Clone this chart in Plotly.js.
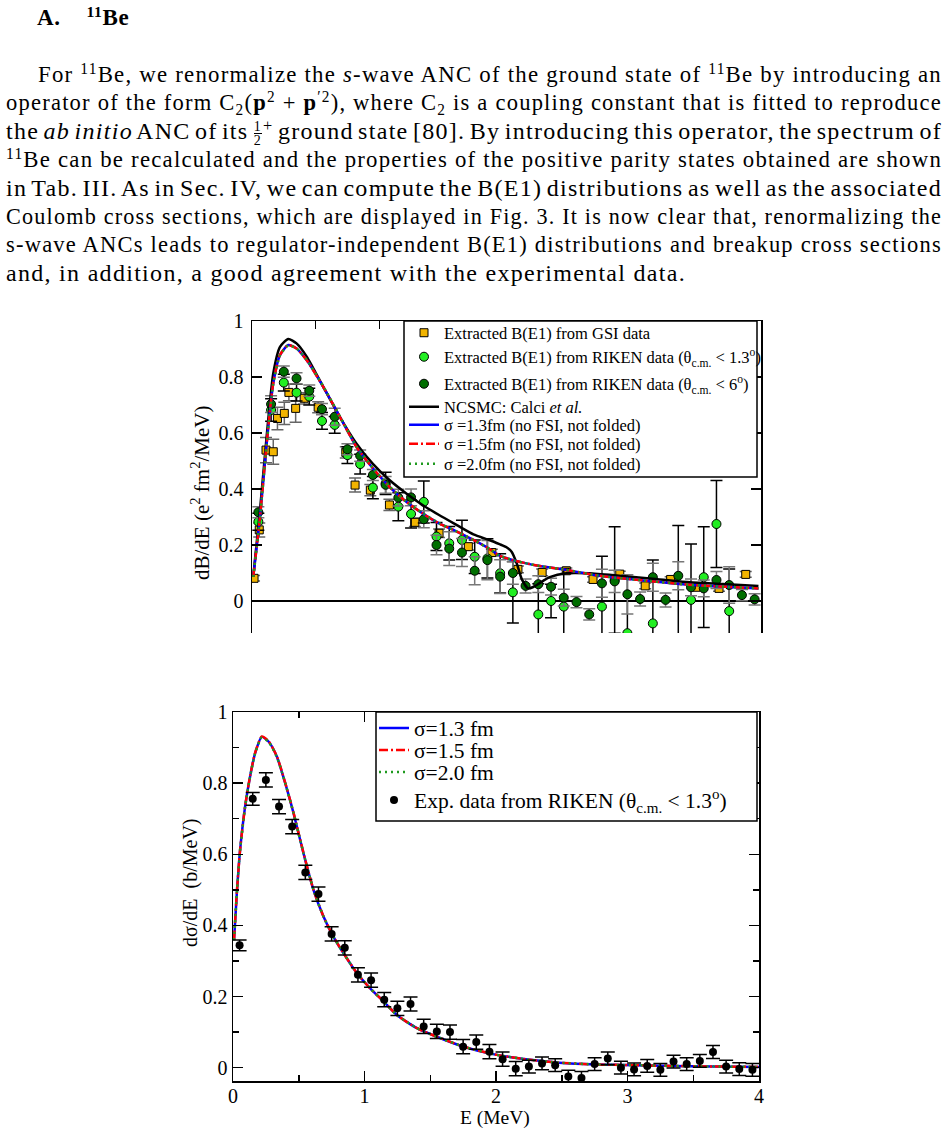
<!DOCTYPE html>
<html>
<head>
<meta charset="utf-8">
<script src="https://cdn.plot.ly/plotly-3.0.1.min.js"></script>
<style>
  body { margin: 0; background: #fff; width: 946px; height: 1147px; overflow: hidden; position: relative; }
  #fig { position: absolute; left: 0; top: 0; width: 946px; height: 1147px; }
  .txt { position: absolute; font-family: 'Liberation Serif', 'Times New Roman', serif; color: #000;
         font-size: 24px; line-height: 28px; white-space: nowrap; z-index: 2; }
  .txt sup { font-size: 0.68em; vertical-align: 0.5em; line-height: 0; }
  .txt sub { font-size: 0.68em; vertical-align: -0.3em; line-height: 0; }
  .fr { display: inline-flex; flex-direction: column; font-size: 14px; line-height: 13px;
        vertical-align: middle; text-align: center; margin: 0 1px; }
  .fr span + span { border-top: 1px solid #000; }
</style>
</head>
<body>
<div class="txt" style="left:37px;top:4px;font-weight:bold;font-size:23px;letter-spacing:0.6px">A.<span style="margin-left:26px"><sup>11</sup>Be</span></div>

<div class="txt para jl" data-w="904" style="left:38px;top:60px">For <sup>11</sup>Be, we renormalize the <i>s</i>-wave ANC of the ground state of <sup>11</sup>Be by introducing an</div>
<div class="txt para jl" data-w="936" style="left:6px;top:88px">operator of the form C<sub>2</sub>(<b>p</b><sup>2</sup> + <b>p</b><sup>′2</sup>), where C<sub>2</sub> is a coupling constant that is fitted to reproduce</div>
<div class="txt para jl" data-w="936" style="left:6px;top:117px">the <i>ab initio</i> ANC of its <span class="fr"><span>1</span><span>2</span></span><sup>+</sup> ground state [80]. By introducing this operator, the spectrum of</div>
<div class="txt para jl" data-w="936" style="left:6px;top:145px"><sup>11</sup>Be can be recalculated and the properties of the positive parity states obtained are shown</div>
<div class="txt para jl" data-w="936" style="left:6px;top:174px">in Tab. III. As in Sec. IV, we can compute the B(E1) distributions as well as the associated</div>
<div class="txt para jl" data-w="936" style="left:6px;top:202px">Coulomb cross sections, which are displayed in Fig. 3. It is now clear that, renormalizing the</div>
<div class="txt para jl" data-w="936" style="left:6px;top:230px">s-wave ANCs leads to regulator-independent B(E1) distributions and breakup cross sections</div>
<div class="txt para" id="lastline" style="left:6px;top:259px">and, in addition, a good agreement with the experimental data.</div>

<div id="fig"></div>

<script>
// Widen the serif text to the column measure set by the closing line, then justify the others
(function () {
  var last = document.getElementById('lastline');
  var w = last.getBoundingClientRect().width;
  var n = last.textContent.length;
  var ls = Math.max(0, (680 - w) / n);
  document.querySelectorAll('.para').forEach(function (el) { el.style.letterSpacing = ls + 'px'; });
  document.querySelectorAll('.jl').forEach(function (el) {
    var target = parseFloat(el.dataset.w);
    var nat = el.getBoundingClientRect().width;
    var spaces = (el.textContent.match(/ /g) || []).length;
    var ws = spaces > 0 ? (target - nat) / spaces : 0;
    if (ws < -3) {
      el.style.transformOrigin = 'left center';
      el.style.transform = 'scaleX(' + (target / nat) + ')';
    } else {
      el.style.wordSpacing = ws + 'px';
    }
  });
})();

// ---------- B(E1) distribution (upper panel) ----------
const gsiE   = [0.016, 0.057, 0.11, 0.167, 0.2, 0.254, 0.29, 0.343, 0.41, 0.52, 0.737, 0.81, 0.93, 1.08, 1.28, 1.47, 1.70, 1.885, 2.09, 2.28, 2.47, 2.68, 2.89, 3.09, 3.29, 3.49, 3.67, 3.88];
const gsiB   = [0.081, 0.254, 0.539, 0.533, 0.652, 0.67, 0.745, 0.688, 0.724, 0.692, 0.531, 0.414, 0.396, 0.343, 0.281, 0.242, 0.194, 0.173, 0.113, 0.102, 0.108, 0.077, 0.096, 0.054, 0.077, 0.049, 0.045, 0.095];
const gsiErr = [0.01, 0.025, 0.045, 0.045, 0.04, 0.04, 0.03, 0.05, 0.02, 0.02, 0.02, 0.025, 0.02, 0.02, 0.015, 0.015, 0.012, 0.012, 0.012, 0.012, 0.01, 0.01, 0.01, 0.01, 0.01, 0.01, 0.01, 0.01];

const rikenE = [0.05, 0.15, 0.25, 0.35, 0.45, 0.55, 0.65, 0.75, 0.85, 0.95, 1.05, 1.15, 1.25, 1.35, 1.45, 1.55, 1.65, 1.75, 1.85, 1.95,
                2.05, 2.15, 2.25, 2.35, 2.45, 2.55, 2.65, 2.75, 2.85, 2.95, 3.05, 3.15, 3.25, 3.35, 3.45, 3.55, 3.65, 3.75, 3.85, 3.95];

const riken13B   = [0.283, 0.682, 0.78, 0.744, 0.73, 0.643, 0.629, 0.521, 0.489, 0.405, 0.42, 0.337, 0.311, 0.354, 0.23, 0.206, 0.218, 0.158, 0.152, 0.099,
                    0.031, null, -0.048, 0.0, -0.02, null, null, -0.02, 0.075, -0.115, null, -0.08, null, -0.16, 0.004, 0.085, 0.275, -0.036, null, null];
const riken13Err = [0.03, 0.04, 0.03, 0.03, 0.03, 0.03, 0.03, 0.03, 0.035, 0.04, 0.04, 0.05, 0.05, 0.075, 0.05, 0.06, 0.07, 0.06, 0.07, 0.07,
                    0.11, 0, 0.11, 0.06, 0.136, 0, 0, 0.18, 0.19, 0.2, 0, 0.226, 0, 0.43, 0.2, 0.18, 0.155, 0.15, 0, 0];

const riken6B   = [0.317, 0.703, 0.819, 0.795, 0.751, 0.685, 0.658, 0.542, 0.519, 0.45, 0.415, 0.369, 0.37, 0.292, 0.20, 0.187, 0.173, 0.108, 0.146, 0.087,
                   0.10, 0.054, 0.06, 0.051, 0.012, -0.004, -0.048, 0.063, 0.07, 0.024, 0.007, 0.085, 0.004, 0.09, 0.049, 0.045, 0.075, 0.057, 0.021, 0.006];
const riken6Err = [0.02, 0.03, 0.02, 0.02, 0.02, 0.02, 0.03, 0.02, 0.02, 0.02, 0.03, 0.03, 0.03, 0.03, 0.035, 0.06, 0.05, 0.05, 0.07, 0.06,
                   0.04, 0.025, 0.03, 0.03, 0.03, 0.02, 0.02, 0.05, 0.04, 0.07, 0.025, 0.05, 0.025, 0.05, 0.03, 0.03, 0.03, 0.065, 0.02, 0.02];

const ncsmcE = [0.01, 0.063, 0.115, 0.167, 0.22, 0.285, 0.35, 0.43, 0.56, 0.69, 0.82, 0.95, 1.08, 1.21, 1.34, 1.47, 1.61, 1.74, 1.87, 1.945,
                2.0, 2.04, 2.08, 2.12, 2.17, 2.21, 2.26, 2.34, 2.47, 2.65, 2.91, 3.17, 3.44, 3.70, 3.98];
const ncsmcB = [0.087, 0.325, 0.587, 0.813, 0.908, 0.936, 0.92, 0.873, 0.765, 0.658, 0.563, 0.49, 0.432, 0.385, 0.343, 0.307, 0.271, 0.238, 0.217, 0.203,
                0.192, 0.176, 0.135, 0.078, 0.045, 0.050, 0.064, 0.085, 0.099, 0.099, 0.089, 0.079, 0.067, 0.061, 0.054];

const be1E   = [0.01, 0.063, 0.115, 0.167, 0.22, 0.285, 0.35, 0.43, 0.56, 0.69, 0.82, 0.95, 1.08, 1.21, 1.34, 1.47, 1.61, 1.74, 1.87, 1.945,
                2.05, 2.13, 2.26, 2.47, 2.73, 3.04, 3.44, 3.98];
const be1S13 = [0.087, 0.30, 0.56, 0.777, 0.878, 0.914, 0.902, 0.86, 0.765, 0.658, 0.551, 0.474, 0.408, 0.355, 0.313, 0.277, 0.248, 0.218, 0.185, 0.162,
                0.146, 0.137, 0.125, 0.111, 0.09, 0.075, 0.058, 0.045];
const be1S15 = [0.087, 0.30, 0.56, 0.778, 0.879, 0.914, 0.902, 0.86, 0.765, 0.658, 0.551, 0.474, 0.408, 0.355, 0.313, 0.277, 0.248, 0.218, 0.185, 0.162,
                0.146, 0.137, 0.125, 0.111, 0.09, 0.075, 0.058, 0.045];
const be1S20 = [0.086, 0.298, 0.557, 0.775, 0.877, 0.912, 0.902, 0.861, 0.767, 0.66, 0.553, 0.475, 0.409, 0.356, 0.314, 0.278, 0.248, 0.218, 0.185, 0.162,
                0.146, 0.137, 0.125, 0.111, 0.09, 0.075, 0.058, 0.045];

// ---------- Coulomb breakup cross section (lower panel) ----------
const xsE   = [0.05, 0.15, 0.25, 0.35, 0.45, 0.55, 0.65, 0.75, 0.85, 0.95, 1.05, 1.15, 1.25, 1.35, 1.45, 1.55, 1.65, 1.75, 1.85, 1.95,
               2.05, 2.15, 2.25, 2.35, 2.45, 2.55, 2.65, 2.75, 2.85, 2.95, 3.05, 3.15, 3.25, 3.35, 3.45, 3.55, 3.65, 3.75, 3.85, 3.95];
const xsVal = [0.344, 0.756, 0.809, 0.734, 0.678, 0.549, 0.488, 0.376, 0.337, 0.261, 0.246, 0.191, 0.167, 0.179, 0.116, 0.102, 0.10, 0.059, 0.072, 0.045,
               0.024, -0.003, 0.003, 0.012, 0.007, -0.025, -0.029, 0.010, 0.026, 0.0, -0.005, 0.005, -0.006, 0.017, 0.010, 0.019, 0.044, 0.003, -0.004, -0.006];
const xsErr = [0.015, 0.018, 0.02, 0.02, 0.02, 0.02, 0.02, 0.02, 0.02, 0.02, 0.02, 0.02, 0.02, 0.02, 0.02, 0.02, 0.02, 0.02, 0.02, 0.02,
               0.02, 0.02, 0.018, 0.018, 0.018, 0.018, 0.018, 0.018, 0.018, 0.018, 0.018, 0.018, 0.018, 0.018, 0.018, 0.018, 0.018, 0.018, 0.018, 0.018];

const csE   = [0.008, 0.029, 0.054, 0.092, 0.13, 0.168, 0.219, 0.27, 0.333, 0.397, 0.46, 0.536, 0.612, 0.688, 0.764, 0.84, 0.942, 1.043, 1.145, 1.246,
               1.399, 1.55, 1.754, 2.007, 2.26, 2.48, 2.76, 3.04, 3.47, 4.0];
const csS13 = [0.359, 0.49, 0.612, 0.734, 0.819, 0.884, 0.93, 0.917, 0.875, 0.8, 0.716, 0.603, 0.5, 0.425, 0.368, 0.322, 0.266, 0.223, 0.186, 0.148,
               0.111, 0.087, 0.059, 0.036, 0.022, 0.014, 0.009, 0.007, 0.004, 0.002];
const csS15 = [0.359, 0.491, 0.613, 0.735, 0.82, 0.885, 0.931, 0.918, 0.876, 0.801, 0.717, 0.604, 0.5, 0.425, 0.368, 0.322, 0.266, 0.223, 0.186, 0.148,
               0.111, 0.087, 0.059, 0.036, 0.022, 0.014, 0.009, 0.007, 0.004, 0.002];
const csS20 = [0.358, 0.489, 0.611, 0.733, 0.818, 0.883, 0.928, 0.916, 0.874, 0.8, 0.716, 0.603, 0.5, 0.425, 0.368, 0.322, 0.266, 0.223, 0.186, 0.148,
               0.111, 0.087, 0.059, 0.036, 0.022, 0.014, 0.009, 0.007, 0.004, 0.002];

const W = 946, H = 1147;
const FONT = 'Liberation Serif, Times New Roman, serif';
const px = v => v / W;
const py = v => 1 - v / H;

const BLUE = '#0000ff', RED = '#ff0000', GREEN = '#1f9a1f';

const traces = [
  { x: gsiE, y: gsiB, type: 'scatter', mode: 'markers', name: 'Extracted B(E1) from GSI data', legend: 'legend',
    marker: { symbol: 'square', size: 8, color: '#f2b400', line: { color: '#000', width: 1 } },
    error_y: { type: 'data', array: gsiErr, color: '#666', thickness: 1.5, width: 6 } },
  { x: rikenE, y: riken13B, type: 'scatter', mode: 'markers', legend: 'legend2',
    name: 'Extracted B(E1) from RIKEN data (θ<sub>c.m.</sub> &lt; 1.3<sup>o</sup>)',
    marker: { symbol: 'circle', size: 9, color: '#22ee22', line: { color: '#000', width: 1 } },
    error_y: { type: 'data', array: riken13Err, color: '#000', thickness: 1.5, width: 6 } },
  { x: rikenE, y: riken6B, type: 'scatter', mode: 'markers', legend: 'legend3',
    name: 'Extracted B(E1) from RIKEN data (θ<sub>c.m.</sub> &lt; 6<sup>o</sup>)',
    marker: { symbol: 'circle', size: 9, color: '#006e00', line: { color: '#000', width: 1 } },
    error_y: { type: 'data', array: riken6Err, color: '#777', thickness: 1.5, width: 6 } },
  { x: ncsmcE, y: ncsmcB, type: 'scatter', mode: 'lines', legend: 'legend4', name: 'NCSMC: Calci <i>et al.</i>',
    line: { color: '#000', width: 2.5, shape: 'spline', smoothing: 0.6 } },
  { x: be1E, y: be1S13, type: 'scatter', mode: 'lines', legend: 'legend5', name: 'σ =1.3fm (no FSI, not folded)',
    line: { color: BLUE, width: 2.5, shape: 'spline', smoothing: 0.6 } },
  { x: be1E, y: be1S15, type: 'scatter', mode: 'lines', legend: 'legend6', name: 'σ =1.5fm (no FSI, not folded)',
    line: { color: RED, width: 2.5, dash: '9px,3px,2px,3px', shape: 'spline', smoothing: 0.6 } },
  { x: be1E, y: be1S20, type: 'scatter', mode: 'lines', legend: 'legend7', name: 'σ =2.0fm (no FSI, not folded)',
    line: { color: GREEN, width: 2.5, dash: '2px,4px', shape: 'spline', smoothing: 0.6 } },

  { x: csE, y: csS13, xaxis: 'x2', yaxis: 'y2', type: 'scatter', mode: 'lines', legend: 'legend8', name: 'σ=1.3 fm',
    line: { color: BLUE, width: 2.5, shape: 'spline', smoothing: 0.6 } },
  { x: csE, y: csS15, xaxis: 'x2', yaxis: 'y2', type: 'scatter', mode: 'lines', legend: 'legend9', name: 'σ=1.5 fm',
    line: { color: RED, width: 2.5, dash: '9px,3px,2px,3px', shape: 'spline', smoothing: 0.6 } },
  { x: csE, y: csS20, xaxis: 'x2', yaxis: 'y2', type: 'scatter', mode: 'lines', legend: 'legend10', name: 'σ=2.0 fm',
    line: { color: GREEN, width: 2.5, dash: '2px,4px', shape: 'spline', smoothing: 0.6 } },
  { x: xsE, y: xsVal, xaxis: 'x2', yaxis: 'y2', type: 'scatter', mode: 'markers', legend: 'legend11',
    name: 'Exp. data from RIKEN (θ<sub>c.m.</sub> &lt; 1.3<sup>o</sup>)',
    marker: { symbol: 'circle', size: 8, color: '#000' },
    error_y: { type: 'data', array: xsErr, color: '#000', thickness: 1.5, width: 7 } }
];

function leg(xp, yp, size) {
  return { x: px(xp), y: py(yp), xanchor: 'left', yanchor: 'middle', bgcolor: 'rgba(0,0,0,0)',
           borderwidth: 0, itemwidth: 30, font: { family: FONT, size: size, color: '#000' } };
}

const axisBase = { showline: true, linecolor: '#000', linewidth: 1.5, ticks: 'inside', tickcolor: '#000',
                   tickwidth: 1.5, showgrid: false, zeroline: false,
                   tickfont: { family: FONT, size: 20, color: '#000' } };

const layout = {
  width: W, height: H,
  margin: { l: 0, r: 0, t: 0, b: 0 },
  paper_bgcolor: 'rgba(0,0,0,0)', plot_bgcolor: 'rgba(0,0,0,0)',
  font: { family: FONT, color: '#000' },
  showlegend: true,
  xaxis: Object.assign({}, axisBase, { domain: [px(252), px(761)], range: [0, 4], anchor: 'y', side: 'top',
          mirror: false, dtick: 0.5, ticklen: 8, showticklabels: false }),
  yaxis: Object.assign({}, axisBase, { domain: [py(633), py(321)], range: [-0.1143, 1], anchor: 'x',
          mirror: 'ticks', dtick: 0.2, tick0: 0, ticklen: 10, ticklabelstandoff: 3,
          zeroline: true, zerolinecolor: '#000', zerolinewidth: 1.5 }),
  xaxis2: Object.assign({}, axisBase, { domain: [px(233), px(759)], range: [0, 4], anchor: 'y2',
          mirror: 'ticks', dtick: 1, ticklen: 10, ticklabelstandoff: -4,
          minor: { dtick: 0.5, ticks: 'inside', ticklen: 6, tickcolor: '#000', tickwidth: 1.5 } }),
  yaxis2: Object.assign({}, axisBase, { domain: [py(1081), py(712)], range: [-0.0375, 1], anchor: 'x2',
          mirror: 'ticks', dtick: 0.2, tick0: 0, ticklen: 10,
          minor: { dtick: 0.1, ticks: 'inside', ticklen: 6, tickcolor: '#000', tickwidth: 1.5 } }),
  legend:  leg(404, 333, 16.5),
  legend2: leg(404, 357, 16.5),
  legend3: leg(404, 384, 16.5),
  legend4: leg(404, 407, 16.5),
  legend5: leg(404, 425, 16.5),
  legend6: leg(404, 444, 16.5),
  legend7: leg(404, 464, 16.5),
  legend8:  leg(374, 728, 21.5),
  legend9:  leg(374, 750, 21.5),
  legend10: leg(374, 772, 21.5),
  legend11: leg(374, 800, 21.5),
  shapes: [
    { type: 'rect', xref: 'paper', yref: 'paper', x0: px(404), x1: px(757), y0: py(477), y1: py(321),
      line: { color: '#000', width: 1.5 }, fillcolor: '#fff', layer: 'above' },
    { type: 'rect', xref: 'paper', yref: 'paper', x0: px(376), x1: px(757), y0: py(821), y1: py(712),
      line: { color: '#000', width: 1.5 }, fillcolor: '#fff', layer: 'above' }
  ],
  annotations: [
    { text: 'dB/dE (e<sup>2</sup> fm<sup>2</sup>/MeV)', xref: 'paper', yref: 'paper', x: px(200), y: py(493),
      xanchor: 'center', yanchor: 'middle', textangle: -90, showarrow: false, font: { family: FONT, size: 21, color: '#000' } },
    { text: 'dσ/dE&nbsp; (b/MeV)', xref: 'paper', yref: 'paper', x: px(190), y: py(883),
      xanchor: 'center', yanchor: 'middle', textangle: -90, showarrow: false, font: { family: FONT, size: 20, color: '#000' } },
    { text: 'E (MeV)', xref: 'paper', yref: 'paper', x: px(495), y: py(1118),
      xanchor: 'center', yanchor: 'middle', showarrow: false, font: { family: FONT, size: 19.5, color: '#000' } }
  ]
};

Plotly.newPlot('fig', traces, layout, { staticPlot: true, displayModeBar: false });
</script>
</body>
</html>
